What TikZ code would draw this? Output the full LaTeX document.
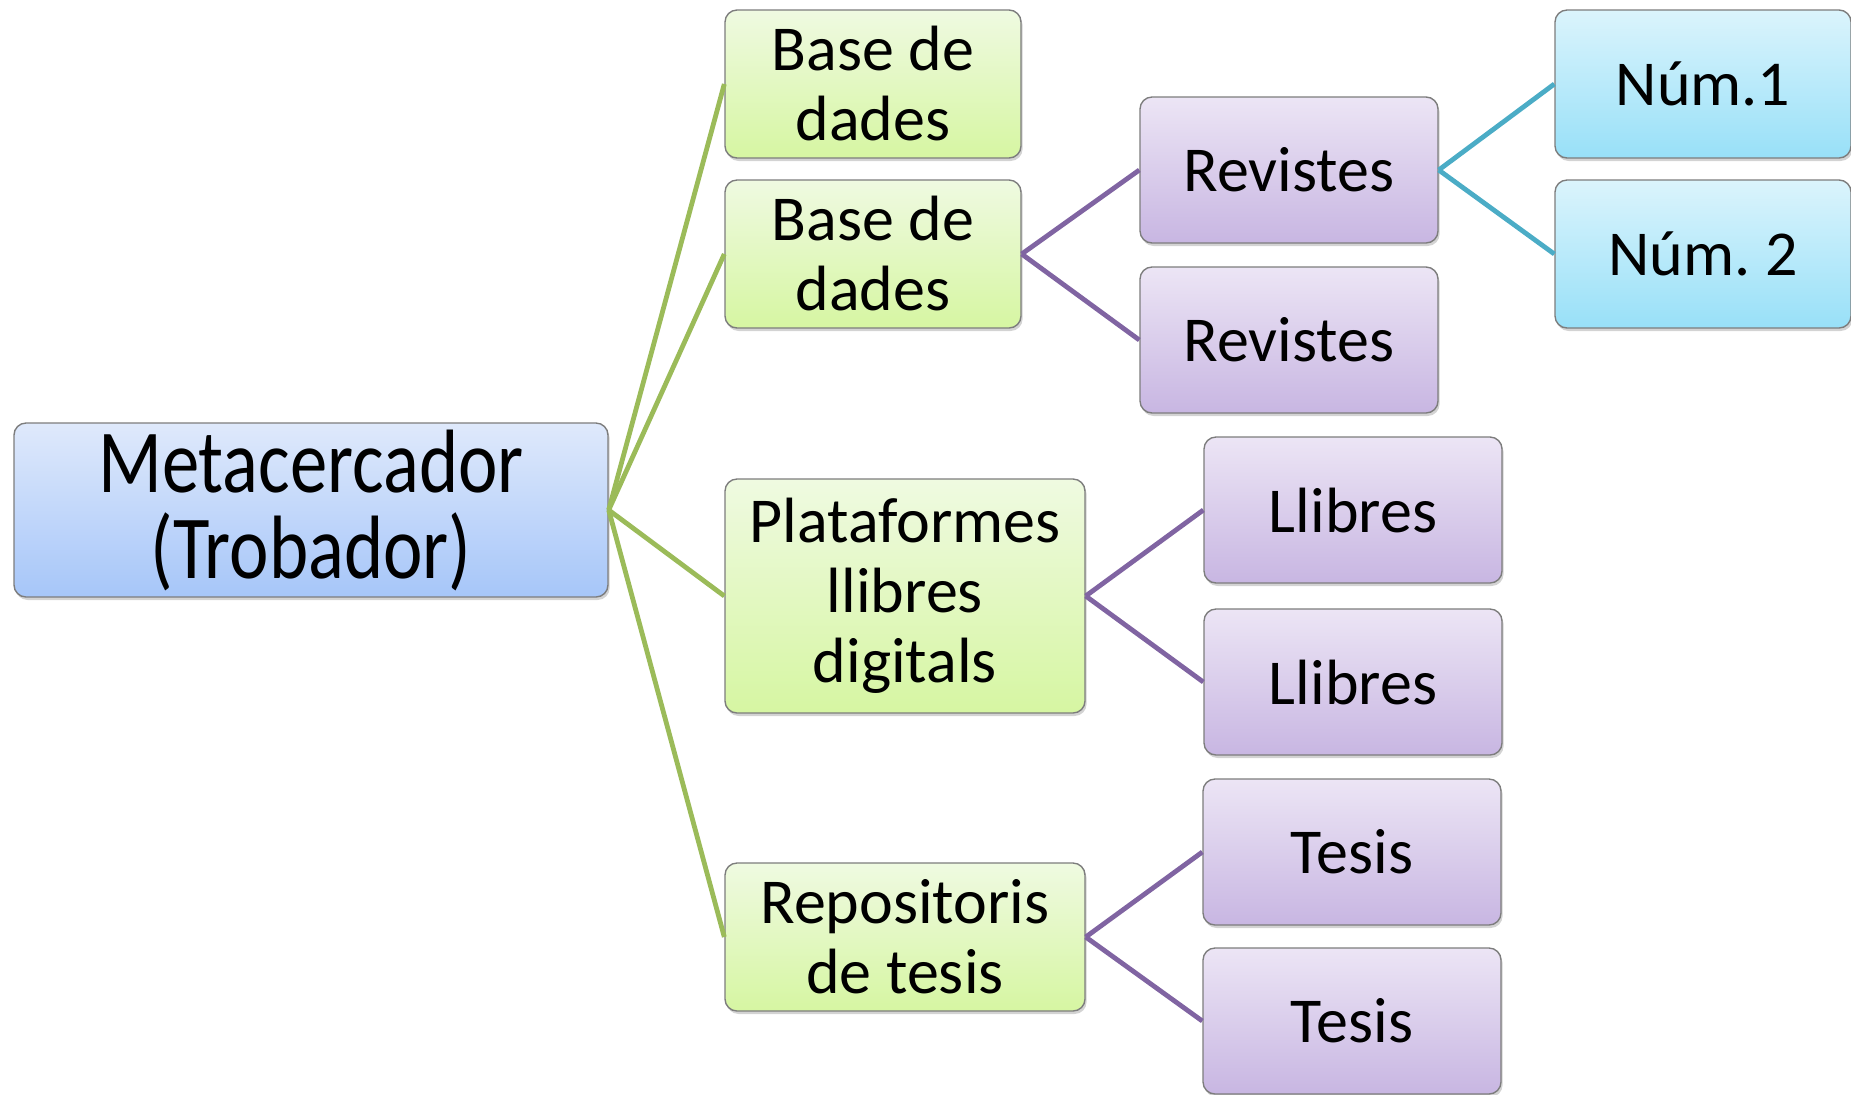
\documentclass[tikz,border=0pt]{standalone}
\usepackage{fontspec}
\setmainfont{Carlito}
\usepackage{graphicx}
\usepackage{tikz}
\usetikzlibrary{shadows}

\definecolor{linegreen}{RGB}{155,187,89}
\definecolor{linepurple}{RGB}{128,100,162}
\definecolor{linecyan}{RGB}{75,172,198}
\definecolor{boxborder}{RGB}{125,125,125}

\newcommand{\narrowtext}[1]{\scalebox{0.83}[1]{#1}}

\tikzset{
  box/.style={draw=boxborder, line width=0.7pt, rounded corners=6pt, align=center,
    inner sep=0pt, drop shadow={opacity=0.35, shadow xshift=0.8pt, shadow yshift=-1.5pt},
    font=\fontsize{32}{35}\selectfont},
  rootbox/.style={box, top color={rgb,255:red,223;green,233;blue,251}, bottom color={rgb,255:red,166;green,198;blue,249},
    minimum width=297pt, minimum height=87pt, font=\fontsize{45}{43}\selectfont},
  greenbox/.style={box, top color={rgb,255:red,239;green,250;blue,225}, bottom color={rgb,255:red,214;green,246;blue,162}},
  purplebox/.style={box, top color={rgb,255:red,236;green,229;blue,245}, bottom color={rgb,255:red,200;green,182;blue,226},
    minimum width=149pt, minimum height=73pt},
  cyanbox/.style={box, top color={rgb,255:red,219;green,244;blue,252}, bottom color={rgb,255:red,152;green,224;blue,248},
    minimum width=148pt, minimum height=74pt},
  link/.style={line width=2.4pt}
}

\begin{document}
\frenchspacing
\begin{tikzpicture}[x=0.5pt,y=-0.5pt]
\useasboundingbox (0,0) rectangle (1851,1094);

\node[rootbox] (meta) at (311,510) {\narrowtext{Metacercador}\\\narrowtext{(Trobador)}};

\node[greenbox, minimum width=148pt, minimum height=74pt] (bd1) at (873,84) {Base de\\dades};
\node[greenbox, minimum width=148pt, minimum height=74pt] (bd2) at (873,254) {Base de\\dades};
\node[greenbox, minimum width=180pt, minimum height=117pt] (plat) at (905,596) {Plataformes\\llibres\\digitals};
\node[greenbox, minimum width=180pt, minimum height=74pt] (repo) at (905,937) {Repositoris\\de tesis};

\node[purplebox] (rev1) at (1289,170) {Revistes};
\node[purplebox] (rev2) at (1289,340) {Revistes};

\node[cyanbox] (num1) at (1703,84) {Núm.1};
\node[cyanbox] (num2) at (1703,254) {Núm. 2};

\node[purplebox] (llib1) at (1353,510) {Llibres};
\node[purplebox] (llib2) at (1353,682) {Llibres};

\node[purplebox] (tes1) at (1352,852) {Tesis};
\node[purplebox] (tes2) at (1352,1021) {Tesis};

% first level
\draw[link, linegreen] (meta.east) -- (bd1.west);
\draw[link, linegreen] (meta.east) -- (bd2.west);
\draw[link, linegreen] (meta.east) -- (plat.west);
\draw[link, linegreen] (meta.east) -- (repo.west);

% second level
\draw[link, linepurple] (bd2.east) -- (rev1.west);
\draw[link, linepurple] (bd2.east) -- (rev2.west);
\draw[link, linepurple] (plat.east) -- (llib1.west);
\draw[link, linepurple] (plat.east) -- (llib2.west);
\draw[link, linepurple] (repo.east) -- (tes1.west);
\draw[link, linepurple] (repo.east) -- (tes2.west);

% third level
\draw[link, linecyan] (rev1.east) -- (num1.west);
\draw[link, linecyan] (rev1.east) -- (num2.west);

\end{tikzpicture}
\end{document}
